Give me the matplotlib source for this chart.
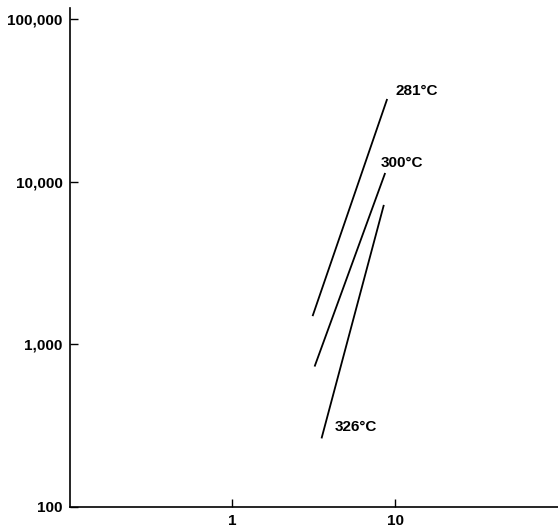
import matplotlib.pyplot as plt
from matplotlib.ticker import FixedLocator, FixedFormatter, NullLocator

# line end points (x, y on log-log scales)
series_names = ["281°C", "300°C", "326°C"]
x_start = [3.11, 3.20, 3.53]
x_end = [8.93, 8.68, 8.52]
y_start = [1490, 730, 264]
y_end = [32200, 11300, 7190]

# label anchors (left edge, vertical centre)
label_x = [10.1, 8.2, 4.28]
label_y = [35800, 13100, 310]

x_ticks = [1, 10]
x_tick_labels = ["1", "10"]
y_ticks = [100, 1000, 10000, 100000]
y_tick_labels = ["100", "1,000", "10,000", "100,000"]

plt.rcParams["font.family"] = ["Liberation Sans", "DejaVu Sans"]
plt.rcParams["font.weight"] = "bold"

fig = plt.figure(figsize=(5.58, 5.25), dpi=100)
ax = fig.add_axes([69.5 / 558, 18 / 525, 488.5 / 558, 499 / 525])

ax.set_xscale("log")
ax.set_yscale("log")
ax.set_xlim(0.1, 100)
ax.set_ylim(100, 116700)

for i, name in enumerate(series_names):
    ax.plot([x_start[i], x_end[i]], [y_start[i], y_end[i]],
            color="black", linewidth=1.3, solid_capstyle="butt")
    ax.text(label_x[i], label_y[i], name, fontsize=11, fontweight="bold",
            ha="left", va="center")

ax.spines["top"].set_visible(False)
ax.spines["right"].set_visible(False)
ax.spines["left"].set_linewidth(1.2)
ax.spines["bottom"].set_linewidth(1.2)

ax.xaxis.set_major_locator(FixedLocator(x_ticks))
ax.xaxis.set_major_formatter(FixedFormatter(x_tick_labels))
ax.yaxis.set_major_locator(FixedLocator(y_ticks))
ax.yaxis.set_major_formatter(FixedFormatter(y_tick_labels))
ax.xaxis.set_minor_locator(NullLocator())
ax.yaxis.set_minor_locator(NullLocator())

ax.tick_params(axis="both", direction="in", length=5.5, width=1.0,
               labelsize=11, colors="black")
ax.tick_params(axis="x", pad=5)
ax.tick_params(axis="y", pad=5)
for lbl in ax.get_xticklabels() + ax.get_yticklabels():
    lbl.set_fontweight("bold")

fig.savefig("out.png", dpi=100)
